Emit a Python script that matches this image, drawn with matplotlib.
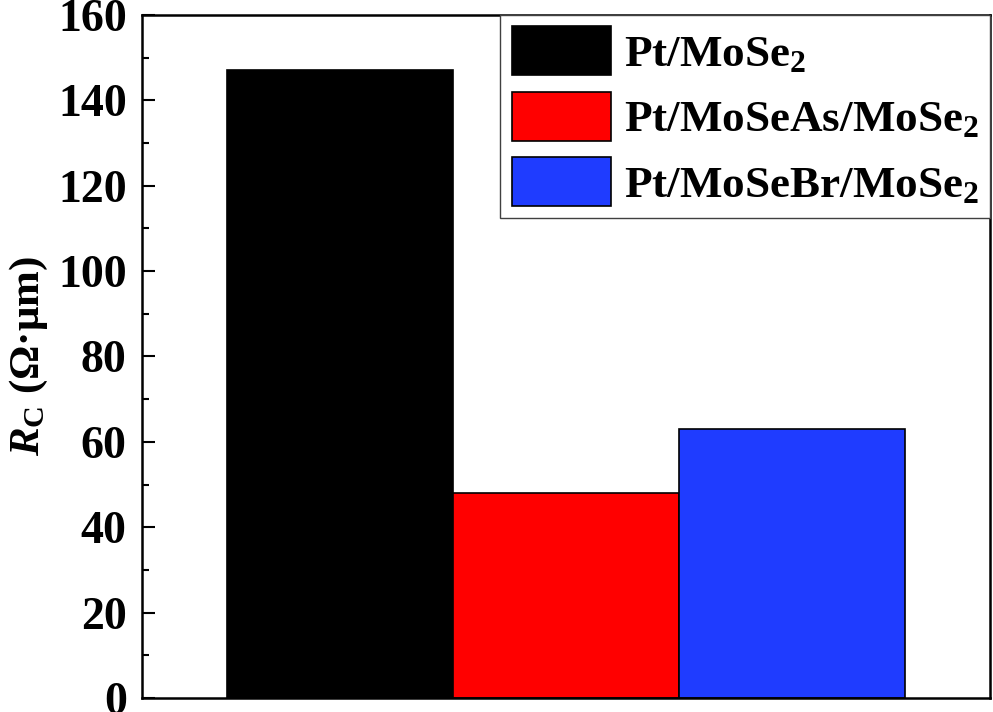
import numpy as np
import matplotlib
matplotlib.use("Agg")
import matplotlib.pyplot as plt
from matplotlib.ticker import MultipleLocator

plt.rcParams['font.family'] = ['Liberation Serif', 'DejaVu Serif']
plt.rcParams['font.weight'] = 'bold'
plt.rcParams['axes.labelweight'] = 'bold'
plt.rcParams['mathtext.fontset'] = 'custom'
plt.rcParams['mathtext.rm'] = 'Liberation Serif:bold'
plt.rcParams['mathtext.it'] = 'Liberation Serif:bold:italic'
plt.rcParams['mathtext.bf'] = 'Liberation Serif:bold'

# data
labels = [r'Pt/MoSe$_2$', r'Pt/MoSeAs/MoSe$_2$', r'Pt/MoSeBr/MoSe$_2$']
rc_values = [147, 48, 63]
colors = ['#000000', '#FF0000', '#1F3CFF']
x = np.arange(1, len(rc_values) + 1)

fig = plt.figure(figsize=(9.93, 7.12), dpi=100)
ax = fig.add_axes([0.143, 0.0197, 0.854, 0.9593])

for xi, v, c, lab in zip(x, rc_values, colors, labels):
    ax.bar(xi, v, width=1.0, color=c, edgecolor='black', linewidth=1.2, label=lab)

ax.set_xlim(0.124, 3.876)
ax.set_ylim(0, 160)
ax.yaxis.set_major_locator(MultipleLocator(20))
ax.yaxis.set_minor_locator(MultipleLocator(10))
ax.set_xticks([])
ax.tick_params(axis='y', which='major', direction='in', length=9, width=1.5,
               labelsize=33, pad=11)
ax.tick_params(axis='y', which='minor', direction='in', length=5, width=1.5)
for s in ax.spines.values():
    s.set_linewidth(1.8)

ax.set_ylabel(r'$\mathit{R}_{\mathrm{C}}$ (Ω·μm)', fontsize=31,
              fontweight='bold', labelpad=6)

leg = ax.legend(loc='upper right', fontsize=32.5, frameon=True, fancybox=False,
                edgecolor='0.25', framealpha=1, borderaxespad=0, borderpad=0.25,
                handlelength=2.2, handleheight=1.3, labelspacing=0.36,
                handletextpad=0.28)
leg.get_frame().set_linewidth(1.0)

fig.savefig('out.png', dpi=100)
